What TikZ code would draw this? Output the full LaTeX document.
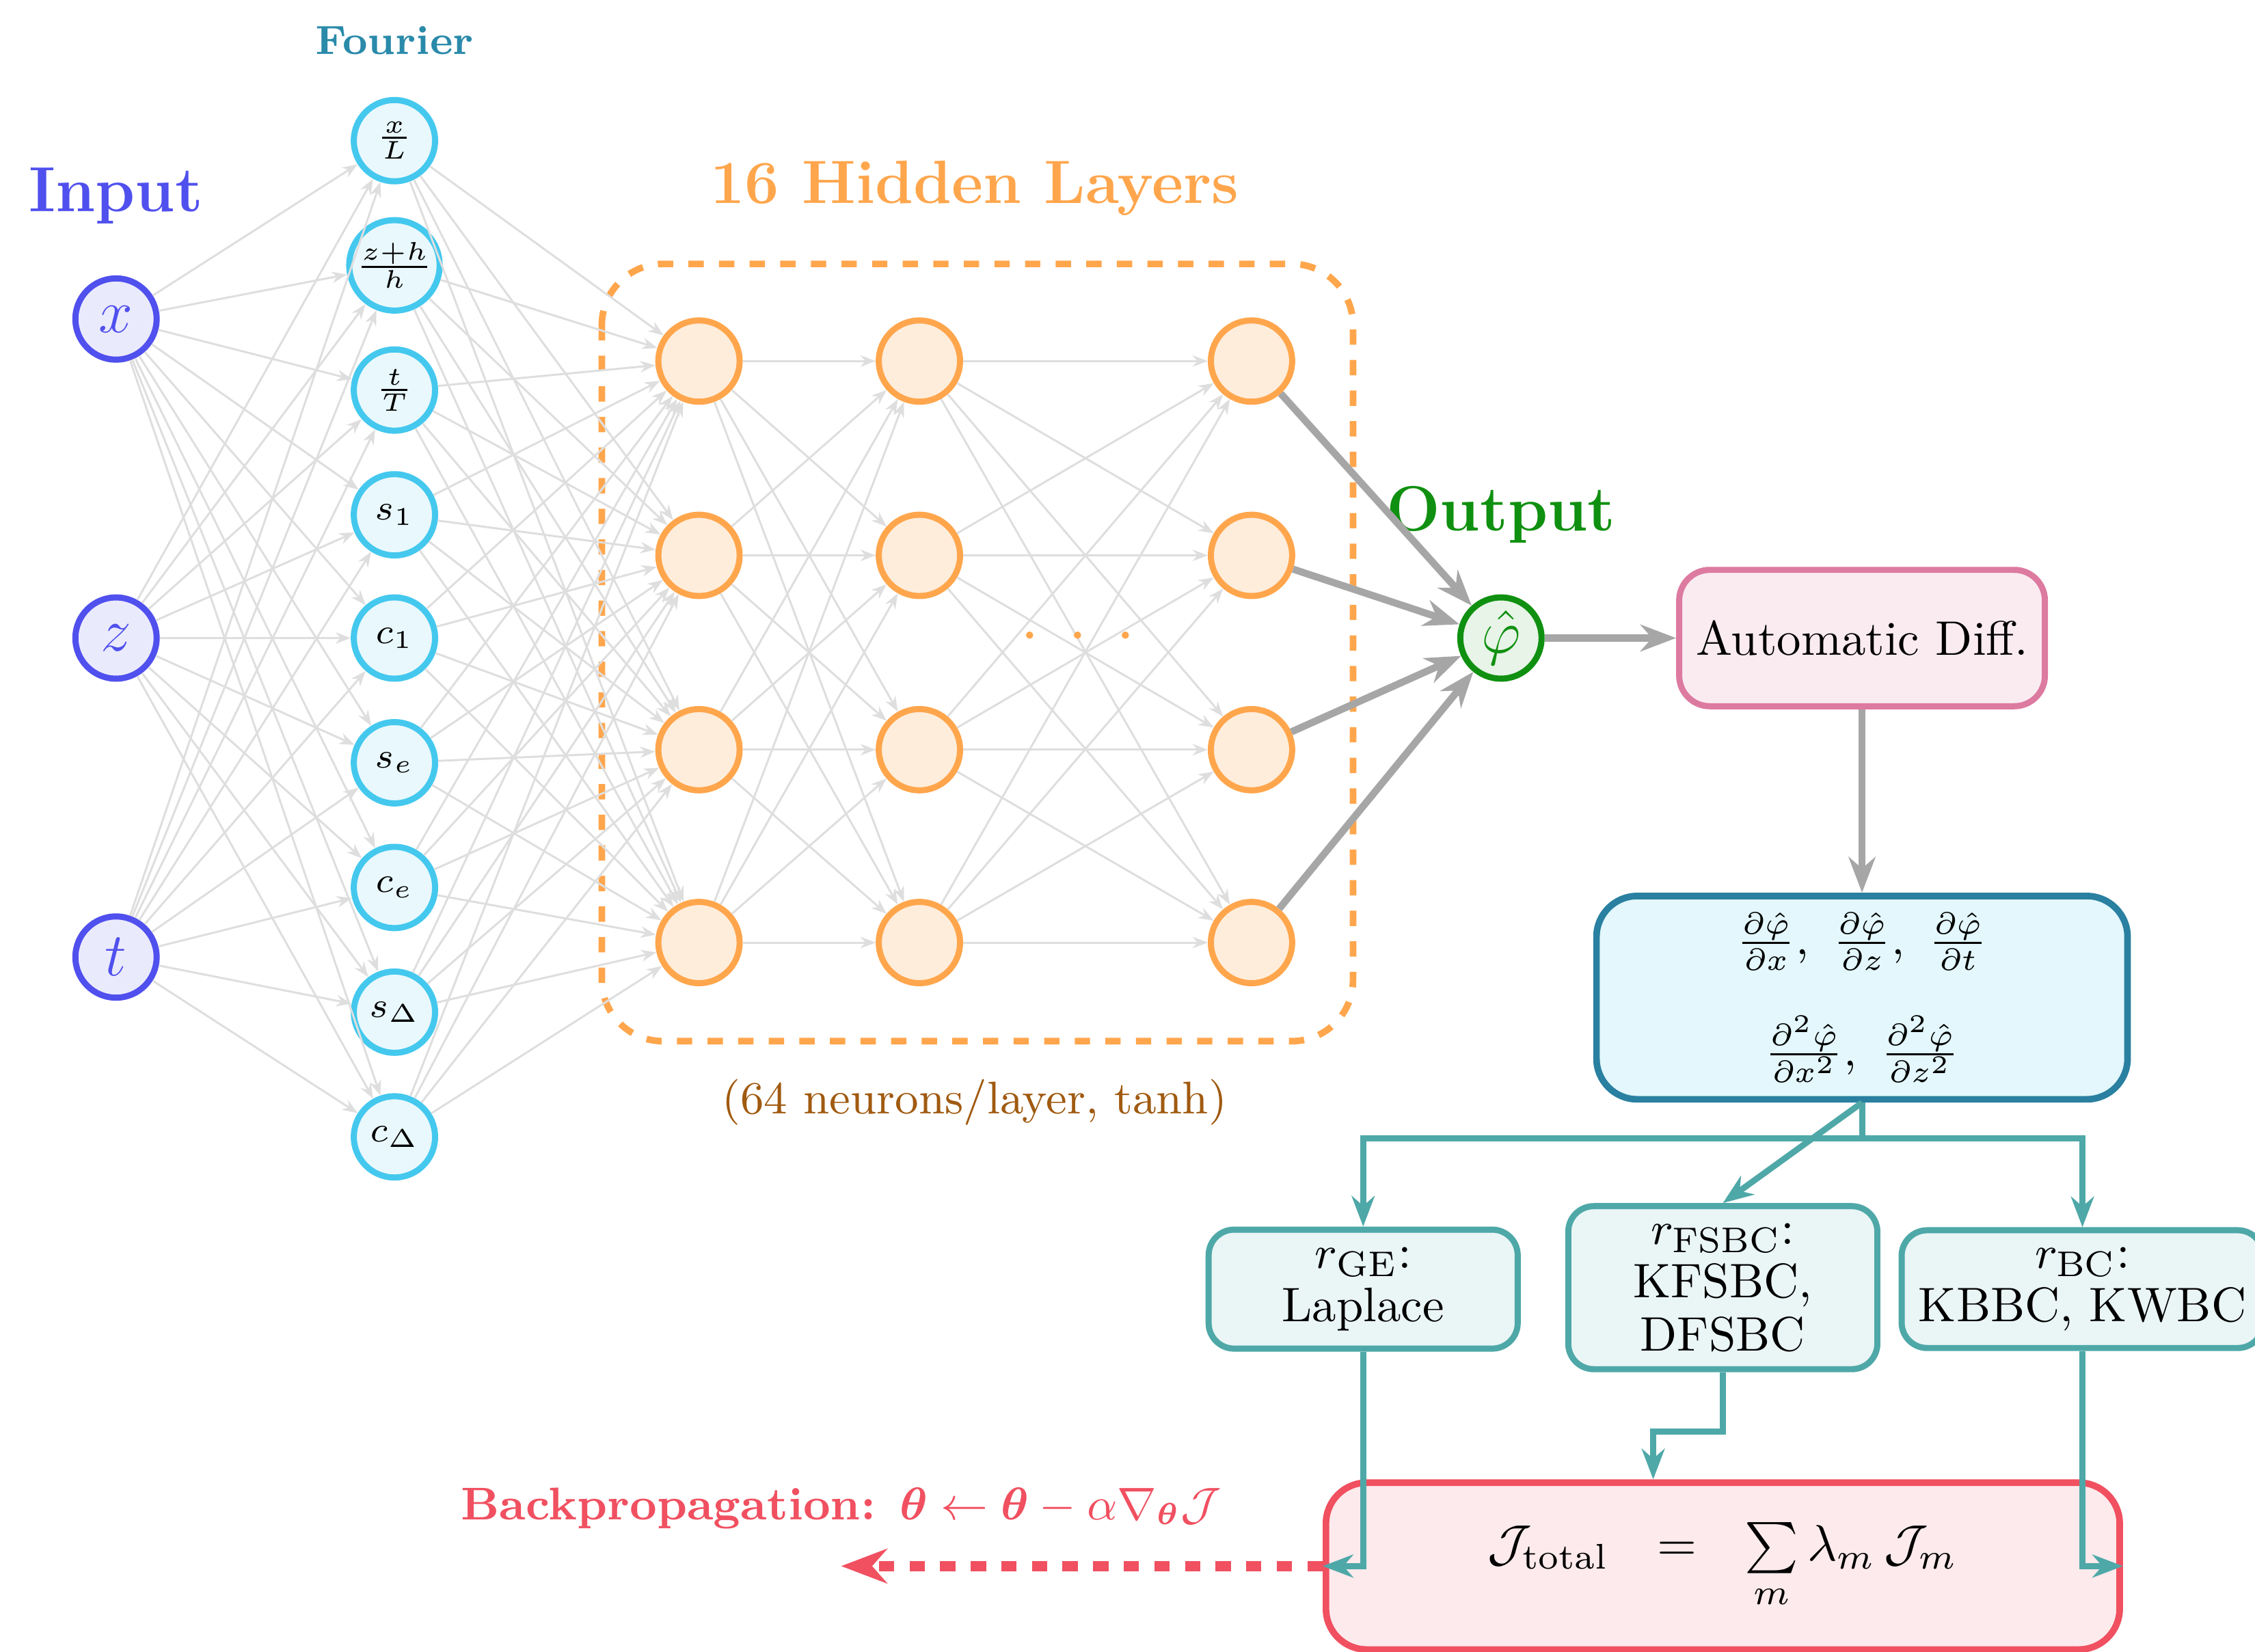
\documentclass[tikz,border=0pt]{standalone}
\usepackage{amsmath,bm}
\usetikzlibrary{arrows.meta}
\definecolor{inb}{HTML}{5050EE}
\definecolor{fb}{HTML}{44C8EE}
\definecolor{orn}{HTML}{FFA64D}
\definecolor{grn}{HTML}{109010}
\definecolor{teal2}{HTML}{4FA8A8}
\definecolor{dblue}{HTML}{2A80A0}
\definecolor{pinkb}{HTML}{DD7AA0}
\definecolor{redb}{HTML}{F05060}
\definecolor{brn}{HTML}{A05A10}
\definecolor{ftit}{HTML}{2A8AAA}
\newcommand{\fsz}[1]{\fontsize{#1}{#1}\selectfont}
\tikzset{
 inp/.style={circle,draw=inb,line width=1.2pt,fill=inb!12,minimum size=0.56cm,inner sep=0pt,text=inb,font=\fsz{13}},
 fou/.style={circle,draw=fb,line width=1.2pt,fill=fb!12,minimum size=0.56cm,inner sep=0pt,font=\fsz{7.5}},
 hid/.style={circle,draw=orn,line width=1.2pt,fill=orn!20,minimum size=0.56cm,inner sep=0pt},
 outn/.style={circle,draw=grn,line width=1.2pt,fill=grn!10,minimum size=0.56cm,inner sep=0pt,text=grn,font=\fsz{13}},
 ed/.style={draw=black!13,line width=0.4pt,-{Stealth[length=3pt]}},
 big/.style={draw=black!35,line width=1.4pt,-{Stealth[length=7pt]}},
 tl/.style={draw=teal2,line width=1.2pt,-{Stealth[length=6pt]}},
 rbox/.style={draw=teal2,line width=1.2pt,fill=teal2!12,rounded corners=5pt,align=center,font=\fsz{9.5}},
}
\begin{document}
\begin{tikzpicture}[x=0.01cm,y=-0.01cm]
\useasboundingbox (0,0) rectangle (1555,1139);
\node[font=\bfseries\fsz{8},text=ftit] at (272,28) {Fourier};
\node[font=\bfseries\fsz{12.5},text=inb] at (80,135) {Input};
\node[font=\bfseries\fsz{12},text=orn] at (672,130) {16 Hidden Layers};
\node[font=\bfseries\fsz{12.5},text=grn] at (1035,355) {Output};
\node[text=brn,font=\fsz{9}] at (672,760) {(64 neurons/layer, tanh)};
\draw[orn,dashed,line width=1.3pt,rounded corners=12pt] (415,182) rectangle (933,718);
\node[inp] (i1) at (80,220) {$x$};
\node[inp] (i2) at (80,440) {$z$};
\node[inp] (i3) at (80,660) {$t$};
\foreach \y/\t [count=\k] in {97/{\frac{x}{L}},183/{\frac{z+h}{h}},269/{\frac{t}{T}},355/{s_1},440/{c_1},526/{s_e},612/{c_e},698/{s_\Delta},784/{c_\Delta}}
  \node[fou] (f\k) at (272,\y) {$\t$};
\foreach \c/\x in {1/482,2/634,3/863}
 \foreach \y [count=\k] in {249,383,517,650}
  \node[hid] (h\c\k) at (\x,\y) {};
\node[outn] (o) at (1035,440) {$\hat\varphi$};
\foreach \i in {1,2,3} \foreach \k in {1,...,9} \draw[ed] (i\i) -- (f\k);
\foreach \k in {1,...,9} \foreach \j in {1,...,4} \draw[ed] (f\k) -- (h1\j);
\foreach \a in {1,...,4} \foreach \b in {1,...,4} {\draw[ed] (h1\a) -- (h2\b); \draw[ed] (h2\a) -- (h3\b);}
\foreach \j in {1,...,4} \draw[big] (h3\j) -- (o);
\foreach \x in {710,743,776} \fill[orn] (\x,438) circle (2.5);
\node[draw=pinkb,line width=1.2pt,fill=pinkb!15,rounded corners=6pt,minimum width=2.32cm,minimum height=0.94cm,font=\fsz{9.5}] (ad) at (1284,440) {Automatic Diff.};
\draw[big] (o) -- (ad);
\node[draw=dblue,line width=1.3pt,fill=fb!15,rounded corners=8pt,minimum width=3.66cm,minimum height=1.33cm,align=center,font=\fsz{9}] (dv) at (1284,688)
 {$\frac{\partial\hat\varphi}{\partial x},\ \frac{\partial\hat\varphi}{\partial z},\ \frac{\partial\hat\varphi}{\partial t}$\\[8pt] $\frac{\partial^2\hat\varphi}{\partial x^2},\ \frac{\partial^2\hat\varphi}{\partial z^2}$};
\draw[big] (ad) -- (dv);
\node[rbox,minimum width=2.13cm,minimum height=0.82cm] (ge) at (940,889) {$r_{\mathrm{GE}}$:\\[1pt]Laplace};
\node[rbox,minimum width=2.13cm,minimum height=1.11cm] (fs) at (1188,888) {$r_{\mathrm{FSBC}}$:\\[1pt]KFSBC,\\[1pt]DFSBC};
\node[rbox,minimum width=2.14cm,minimum height=0.80cm] (bc) at (1436,889) {$r_{\mathrm{BC}}$:\\[1pt]KBBC, KWBC};
\node[draw=redb,line width=1.3pt,fill=redb!12,rounded corners=8pt,minimum width=5.47cm,minimum height=1.15cm,font=\fsz{10}] (ls) at (1188,1080)
 {$\mathcal{J}_{\text{total}}\ \ =\ \ \sum\limits_m \lambda_m\,\mathcal{J}_m$};
\coordinate (sp) at (1284,785);
\draw[teal2,line width=1.2pt] (dv.south) -- (sp);
\draw[tl] (sp) -| (ge.north);
\draw[tl] (sp) -| (bc.north);
\draw[tl] (dv.south) -- (fs.north);
\draw[tl] (ge.south) |- (ls.west);
\draw[tl] (bc.south) |- (ls.east);
\draw[tl] (fs.south) -- ++(0,41) -| (ls.north -| 1140,0);
\coordinate (bp) at (580,1080);
\draw[redb,dashed,line width=2pt,-{Stealth[length=9pt]}] (ls.west) -- (bp);
\node[text=redb,font=\bfseries\fsz{9}] at (580,1040) {Backpropagation: $\bm\theta\leftarrow\bm\theta-\alpha\nabla_{\bm\theta}\mathcal{J}$};
\end{tikzpicture}
\end{document}
